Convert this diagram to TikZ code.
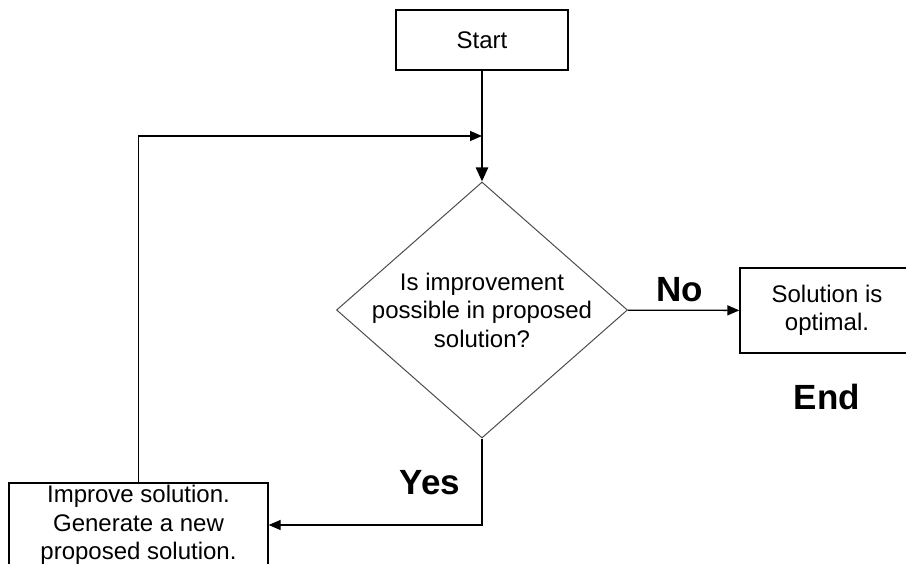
\documentclass[tikz,border=0pt]{standalone}
\usepackage{fontspec}
\setmainfont{Liberation Sans}
\usetikzlibrary{shapes.geometric,arrows.meta}
\begin{document}
\begin{tikzpicture}[x=1pt, y=-1pt, line width=1.3pt,
    >={Triangle[length=12pt,width=10pt]},
    box/.style={draw, align=center, inner sep=0pt, font=\fontsize{24}{28.5}\selectfont},
    label/.style={font=\fontsize{35}{36}\selectfont\bfseries}]
    \useasboundingbox (0,0) rectangle (906,564);

    % Start
    \node[box, minimum width=172pt, minimum height=60pt] (start) at (482,40) {Start};

    % Decision
    \node[diamond, draw=black!70, line width=1pt, inner sep=0pt, minimum width=291pt, minimum height=256pt] (dec) at (482,310) {};
    \node[align=center, font=\fontsize{24}{28.5}\selectfont] (dectext) at (dec.center)
        {Is improvement\\possible in proposed\\solution?};

    % End box
    \node[box, minimum width=174pt, minimum height=85pt] (opt) at (827,310.5) {Solution is\\optimal.};
    \node[label] (end) at (827,397) {End};

    % Improve box
    \node[box, minimum width=259pt, minimum height=84pt] (improve) at (138.5,525) {Improve solution.\\Generate a new\\proposed solution.};

    % Arrows
    \coordinate (join) at (482,136);
    \draw[->, line width=2.4pt, >={Triangle[length=14pt,width=12pt]}] (start) -- (dec);
    \draw[->] (improve) |- (join);
    \draw[->] (dec) -- (opt);
    \draw[->] (dec) |- (improve);

    % Labels
    \node[label] (no) at (680,290) {No};
    \node[label] (yes) at (430,483) {Yes};
\end{tikzpicture}
\end{document}
